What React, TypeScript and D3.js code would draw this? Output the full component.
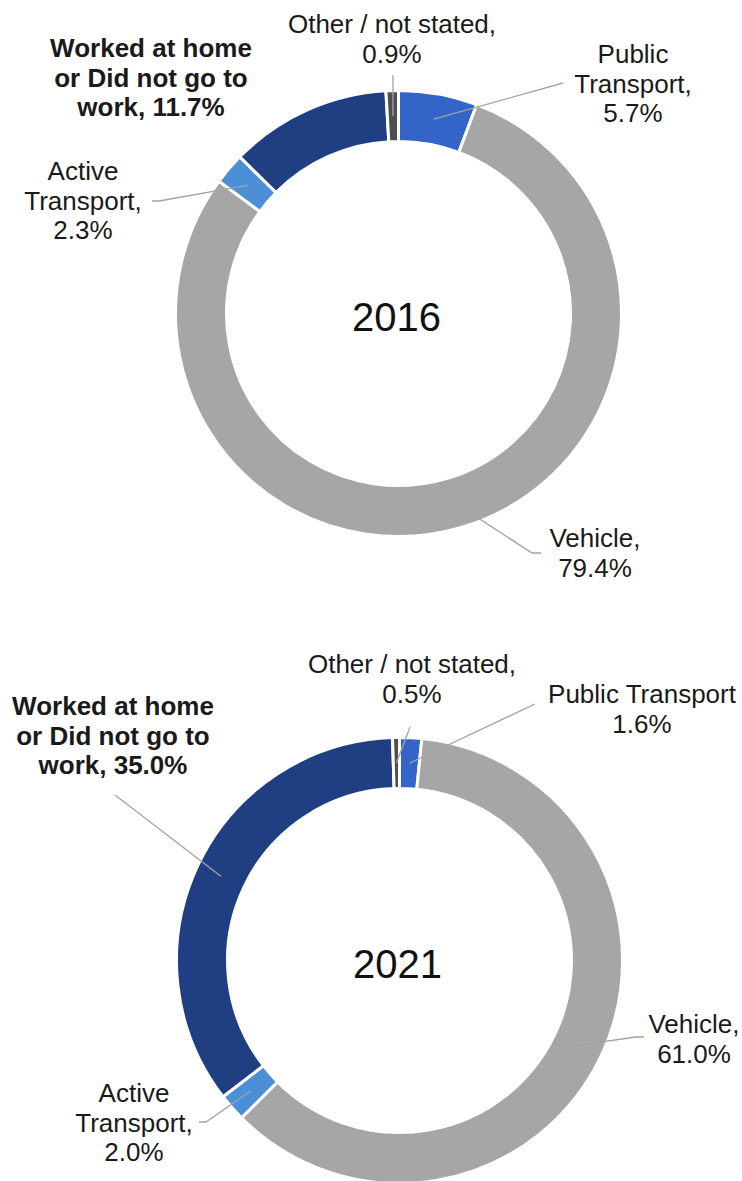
import React from "react";
import * as d3 from "d3";

// journey-to-work mode share, % of employed persons
const categories = [
  "Public Transport",
  "Vehicle",
  "Active Transport",
  "Worked at home or Did not go to work",
  "Other / not stated",
];
const years = ["2016", "2021"];
const values2016 = [5.7, 79.4, 2.3, 11.7, 0.9];
const values2021 = [1.6, 61.0, 2.0, 35.0, 0.5];

// label text per category, "{v}" is replaced with the value
const labelText2016 = [
  ["Public", "Transport,", "{v}"],
  ["Vehicle,", "{v}"],
  ["Active", "Transport,", "{v}"],
  ["Worked at home", "or Did not go to", "work, {v}"],
  ["Other / not stated,", "{v}"],
];
const labelText2021 = [
  ["Public Transport", "{v}"],
  ["Vehicle,", "{v}"],
  ["Active", "Transport,", "{v}"],
  ["Worked at home", "or Did not go to", "work, {v}"],
  ["Other / not stated,", "{v}"],
];

const colors = ["#3365c9", "#a6a6a6", "#4a8fd8", "#1f3f82", "#4f4f4f"];
const boldCategory = 3;

const W = 742;
const H = 1181;
const R_OUT = 223;
const R_IN = 172;
const LINE_H = 29.5;

type LabelPos = { x: number; y: number; lead?: [number, number]; stub?: number };

const layout2016: LabelPos[] = [
  { x: 633, y: 63, lead: [563, 83] },
  { x: 595, y: 547, lead: [541, 553], stub: -9 },
  { x: 83, y: 180, lead: [152, 201], stub: 7 },
  { x: 151, y: 57 },
  { x: 392, y: 33, lead: [393, 75] },
];
const layout2021: LabelPos[] = [
  { x: 642, y: 703, lead: [535, 704] },
  { x: 694, y: 1033, lead: [644, 1037], stub: -8 },
  { x: 134, y: 1102, lead: [199, 1122], stub: 7 },
  { x: 113, y: 715, lead: [115, 795] },
  { x: 412, y: 673, lead: [410, 727] },
];

const charts = [
  { year: years[0], values: values2016, text: labelText2016, pos: layout2016, cx: 398.5, cy: 313.5 },
  { year: years[1], values: values2021, text: labelText2021, pos: layout2021, cx: 399.5, cy: 960.5 },
];

const fmt = d3.format(".1f");
const FONT = "'Liberation Sans', Arial, sans-serif";

function Donut({ chart }: { chart: (typeof charts)[number] }) {
  const pie = d3.pie<number>().sort(null).value((d) => d);
  const arcs = pie(chart.values);
  const arc = d3.arc<d3.PieArcDatum<number>>().innerRadius(R_IN).outerRadius(R_OUT);

  return (
    <g>
      <g transform={`translate(${chart.cx},${chart.cy})`}>
        {arcs.map((a, i) => (
          <path key={categories[i]} d={arc(a) ?? ""} fill={colors[i]} stroke="#fff" strokeWidth={3} />
        ))}
      </g>

      {/* leader lines: label -> slice centroid */}
      {arcs.map((a, i) => {
        const p = chart.pos[i];
        if (!p.lead) return null;
        const [mx, my] = arc.centroid(a);
        const pts: [number, number][] = [p.lead];
        if (p.stub) pts.push([p.lead[0] + p.stub, p.lead[1]]);
        pts.push([chart.cx + mx, chart.cy + my]);
        return (
          <polyline
            key={"lead" + i}
            points={pts.map((q) => q.join(",")).join(" ")}
            fill="none"
            stroke="#a3a3a3"
            strokeWidth={1.3}
          />
        );
      })}

      {chart.values.map((v, i) => {
        const p = chart.pos[i];
        const lines = chart.text[i].map((s) => s.replace("{v}", fmt(v) + "%"));
        return (
          <text
            key={"lab" + i}
            x={p.x}
            y={p.y}
            textAnchor="middle"
            fontFamily={FONT}
            fontSize={26}
            fontWeight={i === boldCategory ? 700 : 400}
            fill="#1a1a1a"
          >
            {lines.map((s, j) => (
              <tspan key={j} x={p.x} dy={j === 0 ? 0 : LINE_H}>
                {s}
              </tspan>
            ))}
          </text>
        );
      })}

      <text
        x={chart.cx - 2}
        y={chart.cy + 17}
        textAnchor="middle"
        fontFamily={FONT}
        fontSize={40}
        fill="#111"
      >
        {chart.year}
      </text>
    </g>
  );
}

export default function App() {
  return (
    <svg
      width={W}
      height={H}
      viewBox={`0 0 ${W} ${H}`}
      style={{ position: "absolute", left: 0, top: 0, background: "#fff" }}
    >
      {charts.map((c) => (
        <Donut key={c.year} chart={c} />
      ))}
    </svg>
  );
}
